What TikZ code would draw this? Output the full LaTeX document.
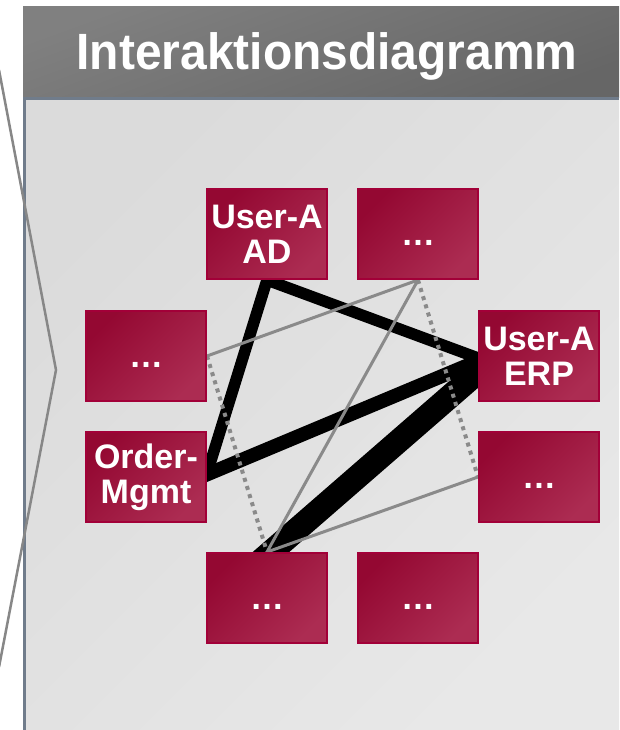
\documentclass[tikz,border=0pt]{standalone}
\usepackage{fontspec}
\setmainfont{Liberation Sans}
\usetikzlibrary{calc}
\pgfdeclarelayer{bg}
\pgfdeclarelayer{lines}
\pgfsetlayers{bg,lines,main}
\definecolor{boxA}{RGB}{148,8,50}
\definecolor{boxB}{RGB}{172,44,82}
\definecolor{boxline}{RGB}{162,0,56}
\definecolor{slate}{RGB}{112,124,139}
\definecolor{conn}{RGB}{138,138,138}
\definecolor{chevc}{RGB}{135,135,135}
\definecolor{headA}{RGB}{128,128,128}
\definecolor{headB}{RGB}{102,102,102}
\definecolor{panA}{RGB}{219,219,219}
\definecolor{panB}{RGB}{232,232,232}
\begin{document}
\begin{tikzpicture}[x=1pt,y=-1pt,
  box/.style={draw=boxline, line width=2pt, top color=boxA, bottom color=boxB, shading angle=45,
    minimum width=120pt, minimum height=90pt, inner sep=0pt, text=white,
    font=\fontsize{34}{35}\selectfont\bfseries, align=center},
  titletext/.style={text=white, font=\fontsize{51}{51}\selectfont\bfseries, inner sep=0pt},
  blk/.style={draw=black, line cap=butt},
  gry/.style={draw=conn, line width=3pt},
  gdot/.style={draw=conn, line width=4pt, dash pattern=on 4pt off 4.5pt},
  chev/.style={draw=chevc, line width=2.5pt}]
\useasboundingbox (0,0) rectangle (619,730);
\begin{pgfonlayer}{bg}
  \fill[white] (0,0) rectangle (619,730);
  \shade[top color=panA, bottom color=panB, shading angle=45] (23,98) rectangle (619,730);
  \shade[top color=headA, bottom color=headB, shading angle=20] (23,7) rectangle (619,97.5);
  \draw[slate, line width=3pt] (24.5,730) -- (24.5,98.5) -- (619,98.5);
\end{pgfonlayer}
\node[titletext, anchor=base] (title) at (327,70) {\scalebox{0.94}[1]{Interaktionsdiagramm}};
\node[box] (ad) at (267,234) {User-A\\AD};
\node[box] (tr) at (418,234) {\vphantom{U}…};
\node[box] (l) at (146,356) {\vphantom{U}…};
\node[box] (erp) at (539,356) {User-A\\ERP};
\node[box] (order) at (146,477) {Order-\\Mgmt};
\node[box] (r) at (539,477) {\vphantom{U}…};
\node[box] (bl) at (267,598) {\vphantom{U}…};
\node[box] (br) at (418,598) {\vphantom{U}…};
\begin{pgfonlayer}{lines}
  \draw[chev] (-1,70) -- (56,370) -- (-1,667);
  \draw[blk, line width=11.5pt, line join=miter, shorten <=-6pt, shorten >=-6pt]
    ($(order.east)+(2,-10)$) -- (ad.south) -- ($(erp.west)+(0,2)$);
  \draw[blk, line width=14pt, shorten <=-8pt, shorten >=-8pt]
    ($(order.east)+(1,-3)$) -- ($(erp.west)+(0,5)$);
  \draw[blk, line width=24pt, shorten <=-15pt, shorten >=-15pt]
    ($(erp.west)+(0,16)$) -- ($(bl.north)+(4,0)$);
  \draw[gry] (l.east) -- (tr.south);
  \draw[gry] (tr.south) -- (bl.north);
  \draw[gry] (bl.north) -- (r.west);
  \draw[gdot] (l.east) -- (bl.north);
  \draw[gdot] (tr.south) -- (r.west);
\end{pgfonlayer}
\end{tikzpicture}
\end{document}
